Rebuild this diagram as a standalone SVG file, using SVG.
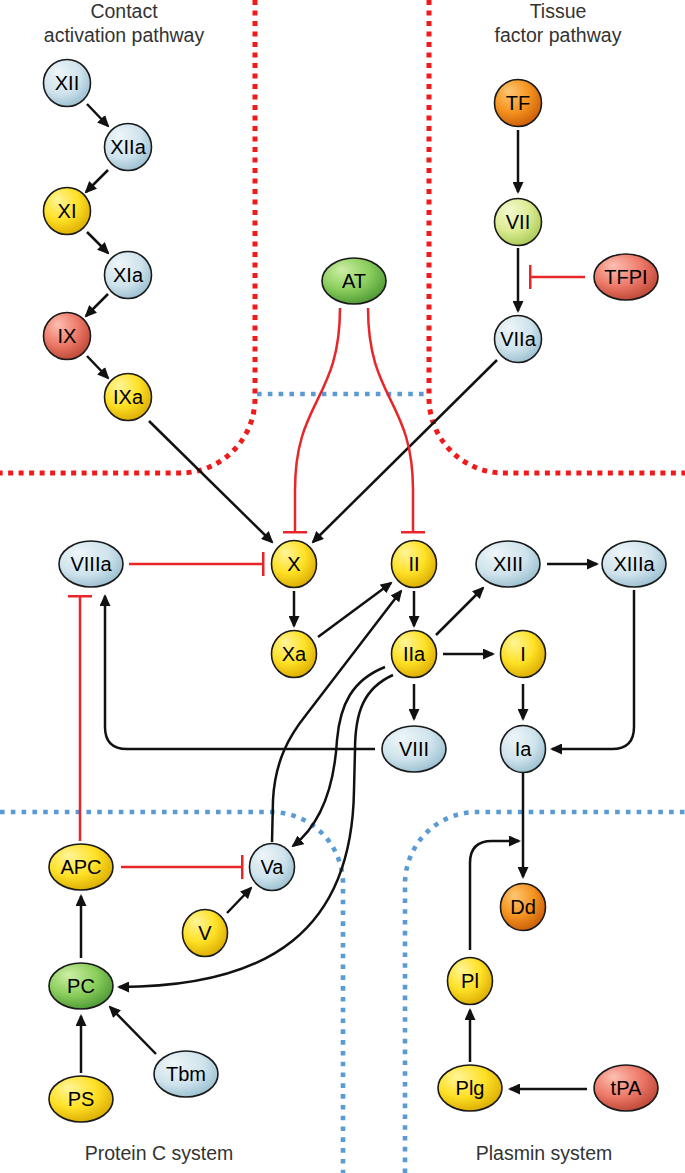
<svg xmlns="http://www.w3.org/2000/svg" width="685" height="1173" viewBox="0 0 685 1173">
<style>
.title{font-family:"Liberation Sans",Arial,sans-serif;font-size:19.5px;fill:#333;text-anchor:middle}
.lbl{font-family:"Liberation Sans",Arial,sans-serif;font-size:20px;fill:#000;text-anchor:middle}
.node{stroke:#1a1a1a;stroke-width:1.6}
.blue{fill:url(#gBlue)}.yellow{fill:url(#gYellow)}.red{fill:url(#gRed)}.orange{fill:url(#gOrange)}.green{fill:url(#gGreen)}.lime{fill:url(#gLime)}
.act{fill:none;stroke:#111;stroke-width:2.5;marker-end:url(#arrow)}
.inh{fill:none;stroke:#e8262a;stroke-width:2.5;marker-end:url(#bar)}
.redDot{fill:none;stroke:#f01a1a;stroke-width:5;stroke-dasharray:5 5.5}
.blueDot{fill:none;stroke:#5b9bd5;stroke-width:4.6;stroke-dasharray:4.6 6.2}
</style>
<defs>
<radialGradient id="gBlue" cx="0.4" cy="0.35" r="0.7" fx="0.3" fy="0.25"><stop offset="0" stop-color="#eef6f9"/><stop offset="0.6" stop-color="#cfe3ec"/><stop offset="1" stop-color="#97bdce"/></radialGradient>
<radialGradient id="gYellow" cx="0.4" cy="0.35" r="0.7" fx="0.3" fy="0.25"><stop offset="0" stop-color="#fff59a"/><stop offset="0.55" stop-color="#ffe126"/><stop offset="1" stop-color="#d9a900"/></radialGradient>
<radialGradient id="gRed" cx="0.4" cy="0.35" r="0.7" fx="0.3" fy="0.25"><stop offset="0" stop-color="#fcc0b2"/><stop offset="0.55" stop-color="#ee7a6a"/><stop offset="1" stop-color="#bb4434"/></radialGradient>
<radialGradient id="gOrange" cx="0.4" cy="0.35" r="0.7" fx="0.3" fy="0.25"><stop offset="0" stop-color="#fdc774"/><stop offset="0.55" stop-color="#f59420"/><stop offset="1" stop-color="#c85a08"/></radialGradient>
<radialGradient id="gGreen" cx="0.4" cy="0.35" r="0.7" fx="0.3" fy="0.25"><stop offset="0" stop-color="#cdeea6"/><stop offset="0.55" stop-color="#8ccf5e"/><stop offset="1" stop-color="#4a9632"/></radialGradient>
<radialGradient id="gLime" cx="0.4" cy="0.35" r="0.7" fx="0.3" fy="0.25"><stop offset="0" stop-color="#f5f9d0"/><stop offset="0.55" stop-color="#dcec94"/><stop offset="1" stop-color="#a9c852"/></radialGradient>
<marker id="arrow" markerUnits="userSpaceOnUse" viewBox="0 0 12 11" refX="10" refY="5.5" markerWidth="12" markerHeight="11" orient="auto"><path d="M0,0 L12,5.5 L0,11 Z" fill="#111"/></marker>
<marker id="bar" markerUnits="userSpaceOnUse" viewBox="0 0 3 24" refX="1.5" refY="12" markerWidth="3" markerHeight="24" orient="auto"><rect x="0" y="0" width="3" height="24" fill="#e8262a"/></marker>
</defs>

<g id="regions">
<path class="redDot" d="M255 0 L255 398 A75 75 0 0 1 180 473 L0 473"/>
<path class="redDot" d="M429 0 L429 398 A75 75 0 0 0 504 473 L685 473"/>
<path class="blueDot" d="M257 394 L427 394"/>
<path class="blueDot" d="M0 812 L271 812 A72 72 0 0 1 343 884 L343 1173"/>
<path class="blueDot" d="M405 1173 L405 884 A72 72 0 0 1 477 812 L685 812"/>
</g>

<g id="titles">
<text class="title" x="124" y="18">Contact</text>
<text class="title" x="124" y="42">activation pathway</text>
<text class="title" x="558" y="18">Tissue</text>
<text class="title" x="558" y="42">factor pathway</text>
<text class="title" x="159" y="1160">Protein C system</text>
<text class="title" x="544" y="1160">Plasmin system</text>
</g>

<g id="connectors">
<line class="act" x1="87" y1="104" x2="108" y2="126"/>
<line class="act" x1="108" y1="170" x2="86" y2="192"/>
<line class="act" x1="87" y1="232" x2="108" y2="253"/>
<line class="act" x1="108" y1="294" x2="86" y2="316"/>
<line class="act" x1="87" y1="356" x2="108" y2="378"/>
<line class="act" x1="149" y1="421" x2="272" y2="542"/>
<line class="act" x1="497" y1="360" x2="313" y2="542"/>
<line class="act" x1="518" y1="130" x2="518" y2="192"/>
<line class="act" x1="518" y1="248" x2="518" y2="311"/>
<line class="act" x1="294" y1="591" x2="294" y2="626"/>
<line class="act" x1="318" y1="637" x2="391" y2="583"/>
<line class="act" x1="414" y1="591" x2="414" y2="626"/>
<line class="act" x1="436" y1="635" x2="483" y2="588"/>
<line class="act" x1="547" y1="564" x2="597" y2="564"/>
<line class="act" x1="443" y1="654" x2="493" y2="654"/>
<line class="act" x1="523" y1="684" x2="523" y2="719"/>
<line class="act" x1="414" y1="684" x2="414" y2="719"/>
<path class="act" d="M634 590 L634 727 Q634 749 612 749 L552 749"/>
<path class="act" d="M375 749 L127 749 Q105 749 105 727 L105 596"/>
<path class="act" d="M272 842 L273 800 C275 760 290 735 306 715 L401 591"/>
<path class="act" d="M385 667 C352 680 340 705 337 740 C334 790 320 825 293 846"/>
<path class="act" d="M393 675 C364 688 355 712 355 750 L354 790 C352 930 270 987 119 987"/>
<line class="act" x1="227" y1="913" x2="251" y2="888"/>
<line class="act" x1="81" y1="958" x2="81" y2="896"/>
<line class="act" x1="81" y1="1073" x2="81" y2="1016"/>
<line class="act" x1="156" y1="1054" x2="110" y2="1007"/>
<line class="act" x1="523" y1="772" x2="523" y2="877"/>
<path class="act" d="M470 950 L470 863 Q470 841 492 841 L519 841"/>
<line class="act" x1="470" y1="1062" x2="470" y2="1010"/>
<line class="act" x1="587" y1="1089" x2="510" y2="1089"/>
<path class="inh" d="M340 308 C340 400 295 400 295 490 L295 532"/>
<path class="inh" d="M368 308 C368 400 413 400 413 490 L413 532"/>
<line class="inh" x1="585" y1="277" x2="530" y2="277"/>
<line class="inh" x1="129" y1="564" x2="263" y2="564"/>
<line class="inh" x1="80" y1="841" x2="80" y2="596"/>
<line class="inh" x1="121" y1="867" x2="242" y2="867"/>
</g>

<g id="n-XII"><ellipse class="node blue" cx="67" cy="83" rx="23.5" ry="23.5"/><text class="lbl" x="67" y="90">XII</text></g>
<g id="n-XIIa"><ellipse class="node blue" cx="128" cy="147" rx="23.5" ry="23.5"/><text class="lbl" x="128" y="154">XIIa</text></g>
<g id="n-XI"><ellipse class="node yellow" cx="67" cy="211" rx="23.5" ry="23.5"/><text class="lbl" x="67" y="218">XI</text></g>
<g id="n-XIa"><ellipse class="node blue" cx="128" cy="275" rx="23.5" ry="23.5"/><text class="lbl" x="128" y="282">XIa</text></g>
<g id="n-IX"><ellipse class="node red" cx="67" cy="336" rx="23.5" ry="23.5"/><text class="lbl" x="67" y="343">IX</text></g>
<g id="n-IXa"><ellipse class="node yellow" cx="128" cy="397" rx="23.5" ry="23.5"/><text class="lbl" x="128" y="404">IXa</text></g>
<g id="n-TF"><ellipse class="node orange" cx="518" cy="103" rx="23.5" ry="23.5"/><text class="lbl" x="518" y="110">TF</text></g>
<g id="n-VII"><ellipse class="node lime" cx="518" cy="222" rx="23.5" ry="23.5"/><text class="lbl" x="518" y="229">VII</text></g>
<g id="n-VIIa"><ellipse class="node blue" cx="518" cy="339" rx="23.5" ry="23.5"/><text class="lbl" x="518" y="346">VIIa</text></g>
<g id="n-TFPI"><ellipse class="node red" cx="626" cy="277" rx="32" ry="23"/><text class="lbl" x="626" y="284">TFPI</text></g>
<g id="n-AT"><ellipse class="node green" cx="354" cy="281" rx="32" ry="23"/><text class="lbl" x="354" y="288">AT</text></g>
<g id="n-VIIIa"><ellipse class="node blue" cx="91" cy="564" rx="32" ry="23"/><text class="lbl" x="91" y="571">VIIIa</text></g>
<g id="n-X"><ellipse class="node yellow" cx="294" cy="564" rx="22.5" ry="23.5"/><text class="lbl" x="294" y="571">X</text></g>
<g id="n-II"><ellipse class="node yellow" cx="414" cy="564" rx="22.5" ry="23.5"/><text class="lbl" x="414" y="571">II</text></g>
<g id="n-XIII"><ellipse class="node blue" cx="508" cy="564" rx="32" ry="23"/><text class="lbl" x="508" y="571">XIII</text></g>
<g id="n-XIIIa"><ellipse class="node blue" cx="634" cy="564" rx="32" ry="23"/><text class="lbl" x="634" y="571">XIIIa</text></g>
<g id="n-Xa"><ellipse class="node yellow" cx="294" cy="654" rx="22.5" ry="23.5"/><text class="lbl" x="294" y="661">Xa</text></g>
<g id="n-IIa"><ellipse class="node yellow" cx="414" cy="654" rx="22.5" ry="23.5"/><text class="lbl" x="414" y="661">IIa</text></g>
<g id="n-I"><ellipse class="node yellow" cx="523" cy="654" rx="22.5" ry="23.5"/><text class="lbl" x="523" y="661">I</text></g>
<g id="n-VIII"><ellipse class="node blue" cx="414" cy="749" rx="32" ry="23"/><text class="lbl" x="414" y="756">VIII</text></g>
<g id="n-Ia"><ellipse class="node blue" cx="523" cy="749" rx="22.5" ry="23.5"/><text class="lbl" x="523" y="756">Ia</text></g>
<g id="n-APC"><ellipse class="node yellow" cx="81" cy="867" rx="32" ry="23"/><text class="lbl" x="81" y="874">APC</text></g>
<g id="n-Va"><ellipse class="node blue" cx="272" cy="867" rx="22.5" ry="23.5"/><text class="lbl" x="272" y="874">Va</text></g>
<g id="n-V"><ellipse class="node yellow" cx="205" cy="933" rx="22.5" ry="23.5"/><text class="lbl" x="205" y="940">V</text></g>
<g id="n-PC"><ellipse class="node green" cx="81" cy="986" rx="32" ry="23"/><text class="lbl" x="81" y="993">PC</text></g>
<g id="n-PS"><ellipse class="node yellow" cx="81" cy="1099" rx="32" ry="23"/><text class="lbl" x="81" y="1106">PS</text></g>
<g id="n-Tbm"><ellipse class="node blue" cx="186" cy="1074" rx="32" ry="23"/><text class="lbl" x="186" y="1081">Tbm</text></g>
<g id="n-Dd"><ellipse class="node orange" cx="523" cy="907" rx="22.5" ry="23.5"/><text class="lbl" x="523" y="914">Dd</text></g>
<g id="n-Pl"><ellipse class="node yellow" cx="470" cy="981" rx="22.5" ry="23.5"/><text class="lbl" x="470" y="988">Pl</text></g>
<g id="n-Plg"><ellipse class="node yellow" cx="470" cy="1088" rx="32" ry="23"/><text class="lbl" x="470" y="1095">Plg</text></g>
<g id="n-tPA"><ellipse class="node red" cx="626" cy="1088" rx="32" ry="23"/><text class="lbl" x="626" y="1095">tPA</text></g>
</svg>
